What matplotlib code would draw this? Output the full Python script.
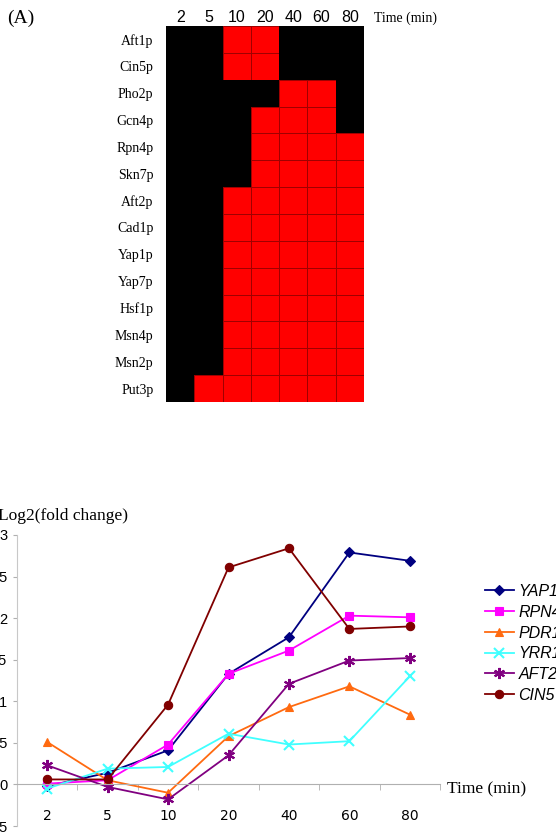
import numpy as np
import matplotlib
matplotlib.use("Agg")
import matplotlib.pyplot as plt
from matplotlib.colors import ListedColormap

# heatmap: transcription factor activity over time (1 = active / red)
times = ["2", "5", "10", "20", "40", "60", "80"]
factors = ["Aft1p", "Cin5p", "Pho2p", "Gcn4p", "Rpn4p", "Skn7p", "Aft2p",
           "Cad1p", "Yap1p", "Yap7p", "Hsf1p", "Msn4p", "Msn2p", "Put3p"]
active = [
    [0, 0, 1, 1, 0, 0, 0],
    [0, 0, 1, 1, 0, 0, 0],
    [0, 0, 0, 0, 1, 1, 0],
    [0, 0, 0, 1, 1, 1, 0],
    [0, 0, 0, 1, 1, 1, 1],
    [0, 0, 0, 1, 1, 1, 1],
    [0, 0, 1, 1, 1, 1, 1],
    [0, 0, 1, 1, 1, 1, 1],
    [0, 0, 1, 1, 1, 1, 1],
    [0, 0, 1, 1, 1, 1, 1],
    [0, 0, 1, 1, 1, 1, 1],
    [0, 0, 1, 1, 1, 1, 1],
    [0, 0, 1, 1, 1, 1, 1],
    [0, 1, 1, 1, 1, 1, 1],
]

# line chart: log2 fold change of target genes
genes = ["YAP1", "RPN4", "PDR1", "YRR1", "AFT2", "CIN5"]
yap1 = [-0.02, 0.14, 0.41, 1.33, 1.77, 2.79, 2.69]
rpn4 = [0.01, 0.05, 0.48, 1.33, 1.61, 2.03, 2.01]
pdr1 = [0.51, 0.05, -0.10, 0.58, 0.93, 1.18, 0.84]
yrr1 = [-0.05, 0.19, 0.21, 0.61, 0.48, 0.52, 1.30]
aft2 = [0.23, -0.03, -0.18, 0.35, 1.21, 1.49, 1.52]
cin5 = [0.06, 0.06, 0.96, 2.61, 2.84, 1.87, 1.90]
series = [yap1, rpn4, pdr1, yrr1, aft2, cin5]

colors = ["#000080", "#ff00ff", "#ff6a10", "#40ffff", "#800080", "#800000"]
markers = ["D", "s", "^", "x", (6, 2, 0), "o"]
msizes = [5, 6, 6, 7, 8, 6]

serif = "Liberation Serif"
sans = "Liberation Sans"

fig = plt.figure(figsize=(5.56, 8.32), dpi=100)

# ---- panel A: heatmap ----
ax1 = fig.add_axes([166/556, 1 - 402/832, 198/556, 376/832])
grid = np.array(active)
mesh = ax1.pcolormesh(grid, cmap=ListedColormap(["black", "#ff0000"]),
                      linewidth=0.7)
# dark red borders on red cells, none visible on black ones
mesh.set_edgecolor(["#a00000" if v else "black" for v in grid.ravel()])
ax1.set_xlim(0, len(times))
ax1.set_ylim(len(factors), 0)
ax1.set_xticks(np.arange(len(times)) + 0.5)
ax1.set_xticklabels(times, family=sans, fontsize=11.5)
ax1.xaxis.tick_top()
ax1.set_yticks(np.arange(len(factors)) + 0.5)
ax1.set_yticklabels(factors, family=serif, fontsize=10)
ax1.tick_params(length=0)
ax1.tick_params(axis="x", pad=1)
ax1.tick_params(axis="y", pad=9)
for s in ax1.spines.values():
    s.set_visible(False)
fig.text(374/556, 1 - 18/832, "Time (min)", family=serif, fontsize=10,
         ha="left", va="center")
fig.text(7/556, 1 - 18/832, "(A)", family=serif, fontsize=14,
         ha="left", va="center")

# ---- lower panel: fold change lines ----
ax2 = fig.add_axes([17/556, 1 - 826/832, 423/556, 291/832])
x = np.arange(len(times))
for vals, name, c, m, ms in zip(series, genes, colors, markers, msizes):
    ax2.plot(x, vals, color=c, marker=m, markersize=ms, lw=1.3,
             markeredgewidth=1.5 if m in ("x", (6, 2, 0)) else 0.8,
             label=name)

ax2.set_xlim(-0.5, len(times) - 0.5)
ax2.set_ylim(-0.5, 3)
ax2.set_yticks(np.arange(-0.5, 3.01, 0.5))
ax2.set_yticklabels([f"{v:g}" for v in np.arange(-0.5, 3.01, 0.5)],
                    family=sans, fontsize=10.5)
ax2.set_xticks(x)
ax2.set_xticklabels(times, family=sans, fontsize=10.5)
ax2.set_xticks(np.arange(len(times)) + 0.5, minor=True)
ax2.tick_params(axis="x", which="major", length=0, pad=18)
ax2.tick_params(axis="x", which="minor", length=4, color="#b0b0b0")
ax2.tick_params(axis="y", length=3, color="#b0b0b0", pad=4)

ax2.spines["bottom"].set_position(("data", 0))
ax2.spines["bottom"].set_color("#b0b0b0")
ax2.spines["left"].set_color("#c8c8c8")
ax2.spines["top"].set_visible(False)
ax2.spines["right"].set_visible(False)

fig.text(-2/556, 1 - 516/832, "Log2(fold change)", family=serif, fontsize=12.5,
         ha="left", va="center")
fig.text(447/556, 1 - 789/832, "Time (min)", family=serif, fontsize=12.5,
         ha="left", va="center")

ax2.legend(loc="upper left", bbox_to_anchor=(485/556, 1 - 584/832),
           bbox_transform=fig.transFigure, frameon=False, borderpad=0,
           borderaxespad=0, handlelength=1.8, handletextpad=0.3,
           labelspacing=0.36, prop={"family": sans, "style": "italic",
                                    "size": 11.5})

fig.savefig("out.png", dpi=100)
